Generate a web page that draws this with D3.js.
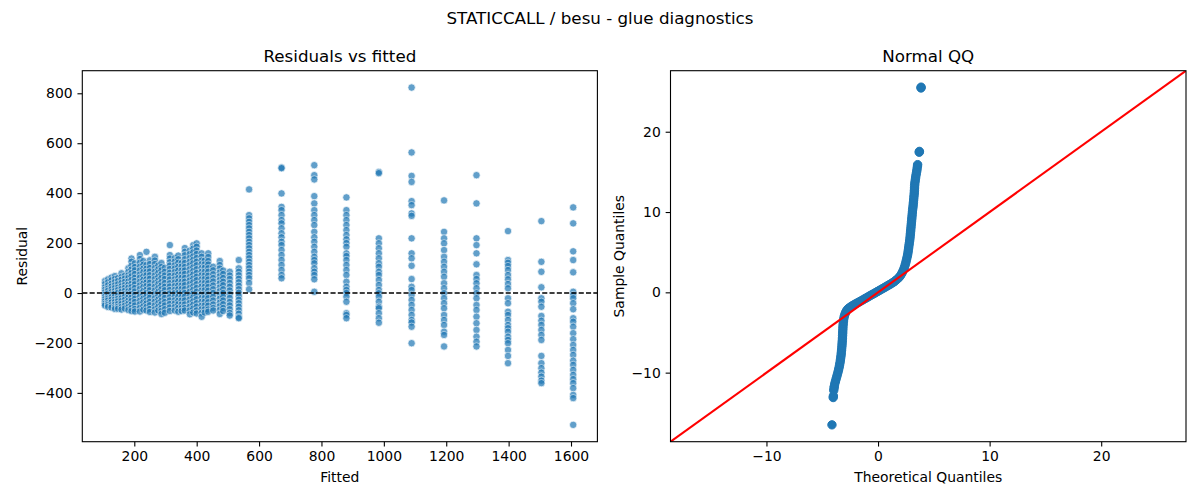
<!DOCTYPE html>
<html>
<head>
<meta charset="utf-8">
<script src="https://cdn.jsdelivr.net/npm/d3@7"></script>
<style>
  html, body { margin: 0; padding: 0; background: #fff; }
  svg { display: block; font-family: "DejaVu Sans", sans-serif; }
</style>
</head>
<body>
<svg id="chart" width="1200" height="500"></svg>
<script>
// ---------------- DATA ----------------
const figTitle = "STATICCALL / besu - glue diagnostics";
const leftTitle = "Residuals vs fitted";
const rightTitle = "Normal QQ";

// fitted levels (columns) of the residual plot
const fittedLevels = [106, 116, 127, 138, 148, 159, 170, 181, 191, 202, 218, 229, 239, 250, 266, 277, 287, 298,
  314, 330, 341, 352, 362, 378, 389, 400, 416, 426, 437, 453, 474, 485, 506, 535,
  568, 672, 777, 880, 984, 1089, 1193, 1297, 1398, 1505, 1607];

// residuals observed at each fitted level (same order as fittedLevels)
const residualsByLevel = [
  [48, 36, 23, 13, 3, -6, -16, -25, -34, -43, -50],
  [55, 43, 31, 18, 9, -2, -13, -22, -30, -41, -48, -56],
  [62, 51, 37, 26, 15, 4, -6, -17, -27, -38, -49, -58],
  [68, 56, 44, 31, 20, 8, -3, -14, -26, -36, -47, -57, -64],
  [60, 48, 35, 22, 12, 1, -11, -23, -33, -44, -55, -63],
  [79, 64, 53, 40, 27, 16, 5, -8, -21, -32, -44, -56, -66],
  [70, 58, 45, 32, 21, 9, -4, -15, -27, -40, -51, -62],
  [99, 85, 71, 60, 46, 33, 21, 7, -5, -18, -31, -43, -56, -68],
  [138, 125, 109, 94, 80, 67, 52, 37, 24, 11, -4, -19, -32, -46, -60, -72],
  [119, 104, 91, 76, 61, 48, 35, 20, 6, -8, -23, -36, -50, -64, -74],
  [152, 136, 121, 105, 90, 74, 61, 45, 30, 16, 0, -15, -31, -45, -60, -74],
  [128, 113, 98, 84, 67, 53, 38, 24, 8, -7, -22, -37, -53, -67],
  [165, 112, 97, 84, 71, 55, 42, 28, 13, 0, -14, -29, -42, -56, -70],
  [131, 116, 100, 86, 71, 57, 41, 26, 11, -4, -19, -35, -49, -64, -76],
  [145, 130, 116, 100, 85, 70, 56, 40, 25, 10, -5, -21, -35, -50, -65, -78],
  [110, 95, 81, 65, 50, 36, 20, 5, -10, -26, -40, -55, -70],
  [120, 104, 91, 75, 60, 44, 30, 15, 0, -15, -31, -45, -60, -72, -84],
  [101, 85, 70, 56, 40, 25, 11, -5, -20, -36, -50, -65, -79],
  [192, 152, 138, 123, 110, 96, 81, 68, 54, 39, 26, 12, -2, -17, -30, -44, -58, -72],
  [140, 126, 111, 98, 84, 70, 55, 42, 28, 13, 0, -14, -29, -42, -56, -70],
  [150, 135, 121, 105, 90, 74, 60, 46, 30, 15, 0, -15, -31, -45, -60, -75],
  [120, 106, 90, 75, 61, 45, 30, 16, 0, -15, -30, -46, -60, -72],
  [180, 165, 151, 135, 120, 104, 90, 76, 60, 45, 31, 15, 0, -15, -30, -46, -60, -70],
  [170, 156, 140, 125, 111, 95, 80, 64, 50, 36, 20, 5, -10, -26, -40, -55, -70, -85],
  [192, 178, 163, 147, 133, 119, 103, 88, 74, 58, 43, 27, 13, -2, -17, -33, -47, -62, -78],
  [199, 185, 170, 156, 140, 125, 111, 95, 80, 65, 51, 35, 20, 5, -10, -25, -41, -55, -70, -82],
  [159, 145, 130, 116, 100, 85, 71, 55, 40, 26, 10, -5, -20, -35, -51, -65, -80, -95],
  [130, 115, 101, 85, 70, 56, 40, 25, 11, -5, -20, -35, -50, -65, -78],
  [159, 144, 128, 114, 99, 85, 69, 54, 39, 24, 9, -6, -21, -37, -51, -66, -75],
  [105, 91, 75, 60, 46, 30, 15, 0, -15, -30, -46, -60, -70],
  [128, 112, 98, 82, 67, 52, 38, 22, 7, -8, -23, -39, -53, -68, -84],
  [90, 76, 60, 45, 31, 15, 0, -15, -30, -45, -60, -72],
  [85, 70, 56, 40, 25, 10, -5, -20, -36, -50, -65, -80, -90],
  [132, 99, 85, 71, 57, 43, 29, 15, 1, -13, -27, -41, -55, -69, -83, -97, -101],
  [415, 312, 299, 285, 272, 259, 245, 232, 219, 205, 192, 179, 165, 152, 139, 125, 112, 99, 85, 72, 59, 40, 15],
  [503, 500, 399, 345, 332, 312, 292, 279, 259, 239, 223, 205, 192, 172, 152, 132, 112, 92, 72, 59],
  [512, 472, 455, 388, 359, 332, 312, 292, 272, 245, 223, 205, 185, 165, 145, 132, 119, 99, 85, 72, 55, 5],
  [383, 332, 312, 292, 272, 252, 232, 215, 200, 185, 159, 148, 132, 112, 92, 72, 45, 25, 12, 0, -15, -35, -81, -88, -101],
  [485, 480, 219, 199, 179, 159, 139, 119, 105, 85, 72, 52, 32, 12, -1, -15, -35, -55, -61, -81, -101, -119],
  [823, 563, 469, 445, 368, 352, 319, 309, 219, 159, 139, 109, 56, 25, 12, -8, -28, -48, -68, -88, -108, -118, -135, -201],
  [371, 245, 219, 199, 172, 145, 125, 105, 85, 65, 39, 19, -1, -21, -41, -61, -88, -108, -128, -155, -168, -214],
  [472, 359, 219, 192, 159, 115, 72, 56, 39, 19, -1, -21, -48, -68, -95, -121, -148, -175, -195, -214],
  [248, 132, 121, 108, 92, 72, 55, 36, 19, -21, -41, -75, -88, -108, -128, -141, -155, -175, -188, -201, -228, -252, -281],
  [288, 125, 85, 23, -21, -35, -55, -92, -111, -128, -148, -168, -188, -252, -281, -301, -319, -335, -351, -361],
  [343, 279, 167, 132, 83, 5, -8, -21, -41, -65, -101, -115, -135, -161, -185, -208, -228, -248, -271, -288, -308, -328, -345, -361, -381, -408, -421, -528]
];

// Normal QQ: theoretical quantiles and sample quantiles (standardized residuals)
const qqTheoretical = [
  -4.13, -4.02, -4.0, -3.97, -3.94, -3.92, -3.88, -3.82, -3.76, -3.7, -3.64, -3.58, -3.53, -3.48, -3.44,
  -3.4, -3.37, -3.34, -3.31, -3.29, -3.27, -3.25, -3.23, -3.22, -3.2, -3.19, -3.18, -3.17, -3.16, -3.15,
  -3.14, -3.12, -3.1, -3.07, -3.03, -2.97, -2.9, -2.82, -2.72, -2.6, -2.45, -2.3, -2.15, -2.0, -1.85,
  -1.7, -1.55, -1.4, -1.25, -1.1, -0.95, -0.8, -0.65, -0.5, -0.35, -0.2, -0.05, 0.1, 0.25, 0.4,
  0.55, 0.7, 0.85, 1.0, 1.15, 1.3, 1.45, 1.6, 1.75, 1.9, 2.02, 2.12, 2.2, 2.28, 2.36,
  2.43, 2.49, 2.54, 2.59, 2.64, 2.68, 2.71, 2.74, 2.77, 2.8, 2.83, 2.86, 2.88, 2.9, 2.92,
  2.94, 2.96, 2.98, 3.0, 3.02, 3.04, 3.06, 3.08, 3.1, 3.13, 3.15, 3.17, 3.19, 3.21, 3.23,
  3.25, 3.26, 3.27, 3.28, 3.3, 3.33, 3.36, 3.39, 3.43, 3.47, 3.5, 3.53, 3.55, 3.69, 3.71,
  3.85, 3.86
];
const qqSample = [
  -16.5, -13.1, -12.9, -12.2, -11.9, -11.7, -11.4, -11.1, -10.8, -10.5, -10.2, -9.9, -9.6, -9.3, -9.0,
  -8.7, -8.4, -8.1, -7.8, -7.5, -7.2, -6.9, -6.6, -6.3, -6.0, -5.7, -5.4, -5.1, -4.8, -4.5,
  -4.2, -3.9, -3.6, -3.3, -3.0, -2.75, -2.5, -2.28, -2.1, -1.95, -1.8, -1.66, -1.54, -1.42, -1.31,
  -1.2, -1.08, -0.97, -0.85, -0.73, -0.61, -0.49, -0.37, -0.25, -0.14, -0.02, 0.1, 0.22, 0.34, 0.46,
  0.58, 0.7, 0.82, 0.94, 1.06, 1.19, 1.33, 1.5, 1.68, 1.88, 2.1, 2.33, 2.55, 2.8, 3.1,
  3.4, 3.7, 4.0, 4.3, 4.6, 4.9, 5.2, 5.5, 5.8, 6.1, 6.4, 6.7, 7.0, 7.3, 7.6,
  7.9, 8.2, 8.5, 8.8, 9.1, 9.4, 9.7, 10.0, 10.3, 10.6, 10.9, 11.2, 11.5, 11.8, 12.1,
  12.4, 12.7, 13.0, 13.3, 13.6, 13.9, 14.2, 14.5, 14.8, 15.1, 15.4, 15.7, 15.9, 17.45, 17.55,
  25.45, 25.55
];

// tick values / labels
const leftXTicks = [200, 400, 600, 800, 1000, 1200, 1400, 1600];
const leftYTicks = [-400, -200, 0, 200, 400, 600, 800];
const rightXTicks = [-10, 0, 10, 20];
const rightYTicks = [-10, 0, 10, 20];
const leftXDomain = [33.3, 1684.6];
const leftYDomain = [-595.5, 890.5];
const qqDomain = [-18.6, 27.6];

// ---------------- DRAW ----------------
const svg = d3.select("#chart");
const C0 = "#1f77b4";
const fmt = v => (v < 0 ? "\u2212" + Math.abs(v) : String(v));
const TICK = 4.86, PAD = 4.86, FS = 13.9, TFS = 16.7;

const L = { x0: 82.3, x1: 597.4, y0: 70.7, y1: 441.7 };
const R = { x0: 670.5, x1: 1186, y0: 70.7, y1: 441.7 };

svg.append("text").attr("x", 600).attr("y", 24).attr("text-anchor", "middle")
  .attr("font-size", TFS).attr("fill", "#000").text(figTitle);

function styleAxis(g) {
  g.select(".domain").remove();
  g.selectAll(".tick line").attr("stroke", "#000").attr("stroke-width", 1.1);
  g.selectAll(".tick text").attr("font-size", FS).attr("fill", "#000")
    .attr("font-family", "DejaVu Sans, sans-serif");
}

// ---- Left panel ----
const lx = d3.scaleLinear().domain(leftXDomain).range([L.x0, L.x1]);
const ly = d3.scaleLinear().domain(leftYDomain).range([L.y1, L.y0]);

const defs = svg.append("defs");
defs.append("clipPath").attr("id", "clipL")
  .append("rect").attr("x", L.x0).attr("y", L.y0).attr("width", L.x1 - L.x0).attr("height", L.y1 - L.y0);
defs.append("clipPath").attr("id", "clipR")
  .append("rect").attr("x", R.x0).attr("y", R.y0).attr("width", R.x1 - R.x0).attr("height", R.y1 - R.y0);

const pts = [];
fittedLevels.forEach((f, i) => residualsByLevel[i].forEach(r => pts.push({ f, r })));

const gL = svg.append("g").attr("clip-path", "url(#clipL)");
gL.selectAll("circle").data(pts).join("circle")
  .attr("cx", d => lx(d.f)).attr("cy", d => ly(d.r)).attr("r", 3.7)
  .attr("fill", C0).attr("stroke", "#fff").attr("stroke-width", 0.7).attr("opacity", 0.7);

gL.append("line").attr("x1", L.x0).attr("x2", L.x1).attr("y1", ly(0)).attr("y2", ly(0))
  .attr("stroke", "#000").attr("stroke-width", 1.39).attr("stroke-dasharray", "5.1,2.2");

svg.append("g").attr("transform", `translate(0,${L.y1})`)
  .call(d3.axisBottom(lx).tickValues(leftXTicks).tickFormat(fmt).tickSize(TICK).tickPadding(PAD))
  .call(styleAxis);
svg.append("g").attr("transform", `translate(${L.x0},0)`)
  .call(d3.axisLeft(ly).tickValues(leftYTicks).tickFormat(fmt).tickSize(TICK).tickPadding(PAD))
  .call(styleAxis);

svg.append("rect").attr("x", L.x0).attr("y", L.y0).attr("width", L.x1 - L.x0).attr("height", L.y1 - L.y0)
  .attr("fill", "none").attr("stroke", "#000").attr("stroke-width", 1.1);

svg.append("text").attr("x", (L.x0 + L.x1) / 2).attr("y", 62.4).attr("text-anchor", "middle")
  .attr("font-size", TFS).text(leftTitle);
svg.append("text").attr("x", (L.x0 + L.x1) / 2).attr("y", 481.5).attr("text-anchor", "middle")
  .attr("font-size", FS).text("Fitted");
svg.append("text").attr("transform", `translate(26.5,${(L.y0 + L.y1) / 2}) rotate(-90)`)
  .attr("text-anchor", "middle").attr("font-size", FS).text("Residual");

// ---- Right panel ----
const rx = d3.scaleLinear().domain(qqDomain).range([R.x0, R.x1]);
const ry = d3.scaleLinear().domain(qqDomain).range([R.y1, R.y0]);

const qq = qqTheoretical.map((t, i) => ({ t, s: qqSample[i] }));
const gR = svg.append("g").attr("clip-path", "url(#clipR)");
gR.selectAll("circle").data(qq).join("circle")
  .attr("cx", d => rx(d.t)).attr("cy", d => ry(d.s)).attr("r", 4.2)
  .attr("fill", C0).attr("stroke", C0).attr("stroke-width", 1);

gR.append("line").attr("x1", rx(qqDomain[0])).attr("y1", ry(qqDomain[0]))
  .attr("x2", rx(qqDomain[1])).attr("y2", ry(qqDomain[1]))
  .attr("stroke", "#ff0000").attr("stroke-width", 2.08);

svg.append("g").attr("transform", `translate(0,${R.y1})`)
  .call(d3.axisBottom(rx).tickValues(rightXTicks).tickFormat(fmt).tickSize(TICK).tickPadding(PAD))
  .call(styleAxis);
svg.append("g").attr("transform", `translate(${R.x0},0)`)
  .call(d3.axisLeft(ry).tickValues(rightYTicks).tickFormat(fmt).tickSize(TICK).tickPadding(PAD))
  .call(styleAxis);

svg.append("rect").attr("x", R.x0).attr("y", R.y0).attr("width", R.x1 - R.x0).attr("height", R.y1 - R.y0)
  .attr("fill", "none").attr("stroke", "#000").attr("stroke-width", 1.1);

svg.append("text").attr("x", (R.x0 + R.x1) / 2).attr("y", 62.4).attr("text-anchor", "middle")
  .attr("font-size", TFS).text(rightTitle);
svg.append("text").attr("x", (R.x0 + R.x1) / 2).attr("y", 481.5).attr("text-anchor", "middle")
  .attr("font-size", FS).text("Theoretical Quantiles");
svg.append("text").attr("transform", `translate(623.5,${(R.y0 + R.y1) / 2}) rotate(-90)`)
  .attr("text-anchor", "middle").attr("font-size", FS).text("Sample Quantiles");
</script>
</body>
</html>
